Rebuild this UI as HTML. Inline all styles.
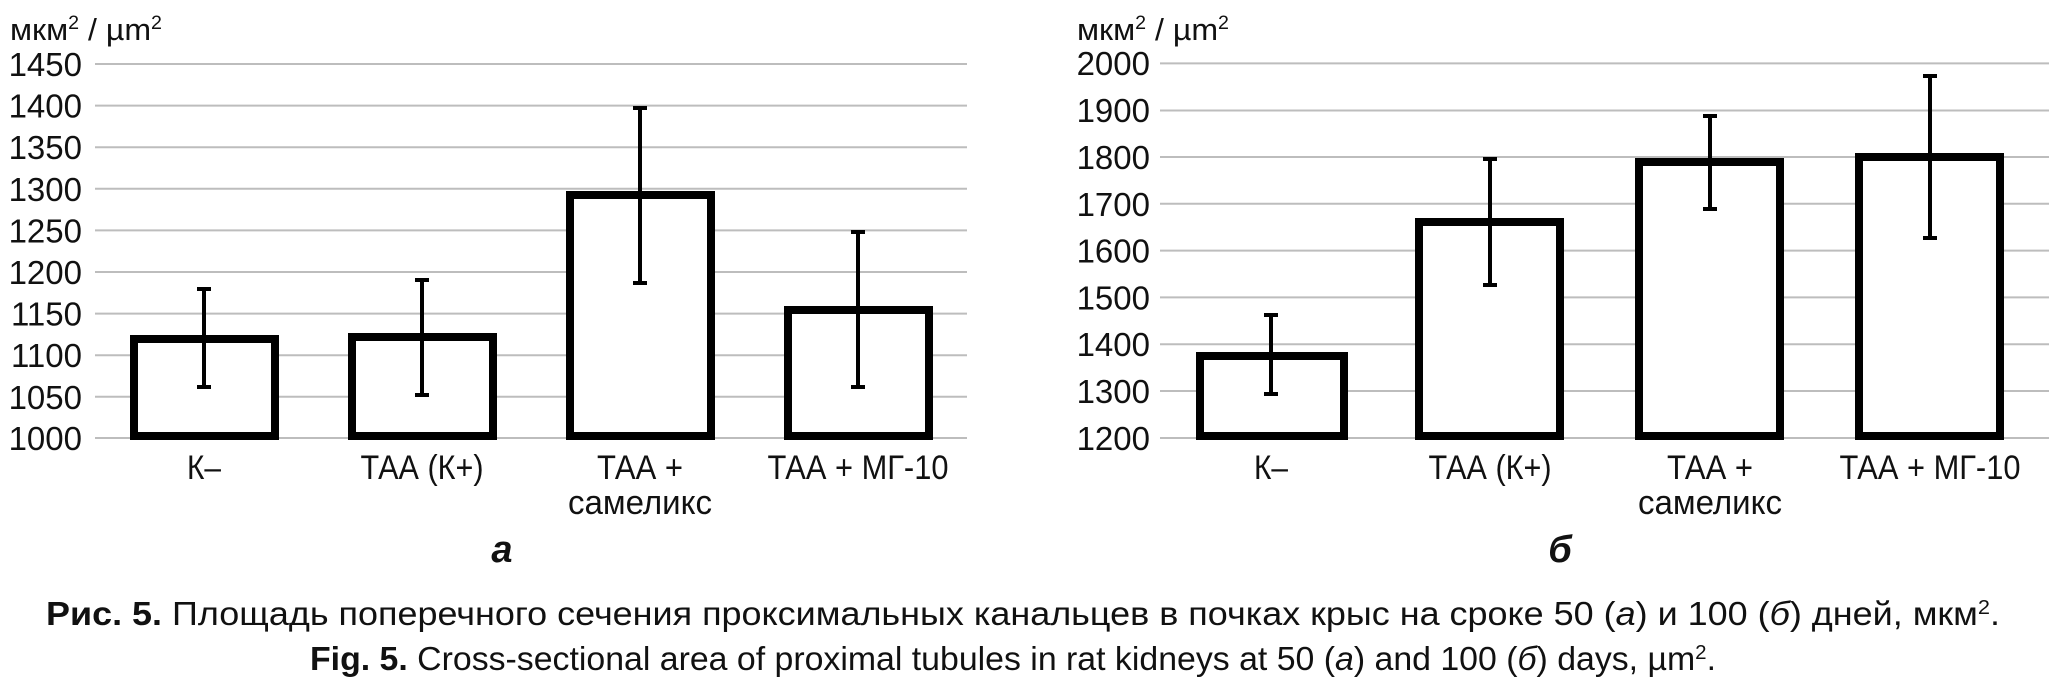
<!DOCTYPE html>
<html><head><meta charset="utf-8"><style>
html,body{margin:0;padding:0;background:#fff;}
svg{display:block;}
text{font-family:"Liberation Sans","DejaVu Sans",sans-serif;fill:#111;}
</style></head><body>
<svg width="2049" height="694" viewBox="0 0 2049 694" xmlns="http://www.w3.org/2000/svg">
<!-- LEFT CHART -->
<text x="10" y="40" font-size="31" textLength="152" lengthAdjust="spacingAndGlyphs">мкм<tspan font-size="19" dy="-11">2</tspan><tspan dy="11"> / µm</tspan><tspan font-size="19" dy="-11">2</tspan></text>
<g stroke="#bdbdbd" stroke-width="2">
<line x1="95" y1="64" x2="967" y2="64"/><line x1="95" y1="105.6" x2="967" y2="105.6"/>
<line x1="95" y1="147.2" x2="967" y2="147.2"/><line x1="95" y1="188.8" x2="967" y2="188.8"/>
<line x1="95" y1="230.4" x2="967" y2="230.4"/><line x1="95" y1="272" x2="967" y2="272"/>
<line x1="95" y1="313.6" x2="967" y2="313.6"/><line x1="95" y1="355.2" x2="967" y2="355.2"/>
<line x1="95" y1="396.8" x2="967" y2="396.8"/><line x1="95" y1="438" x2="967" y2="438"/>
</g>
<g font-size="33" text-anchor="end">
<text x="82" y="76">1450</text><text x="82" y="117.6">1400</text><text x="82" y="159.2">1350</text>
<text x="82" y="200.8">1300</text><text x="82" y="242.4">1250</text><text x="82" y="284">1200</text>
<text x="82" y="325.6">1150</text><text x="82" y="367.2">1100</text><text x="82" y="408.8">1050</text>
<text x="82" y="450">1000</text>
</g>
<g fill="#fff" stroke="#000" stroke-width="8">
<rect x="134" y="339" width="141" height="97"/>
<rect x="352" y="337" width="141" height="99"/>
<rect x="570" y="195" width="141" height="241"/>
<rect x="788" y="310" width="141" height="126"/>
</g>
<g stroke="#000" stroke-width="4">
<line x1="204" y1="289" x2="204" y2="387"/><line x1="197" y1="289" x2="211" y2="289"/><line x1="197" y1="387" x2="211" y2="387"/>
<line x1="422" y1="280" x2="422" y2="395"/><line x1="415" y1="280" x2="429" y2="280"/><line x1="415" y1="395" x2="429" y2="395"/>
<line x1="640" y1="108" x2="640" y2="283"/><line x1="633" y1="108" x2="647" y2="108"/><line x1="633" y1="283" x2="647" y2="283"/>
<line x1="858" y1="232" x2="858" y2="387"/><line x1="851" y1="232" x2="865" y2="232"/><line x1="851" y1="387" x2="865" y2="387"/>
</g>
<g font-size="34" text-anchor="middle">
<text x="204" y="479" textLength="34" lengthAdjust="spacingAndGlyphs">К–</text>
<text x="422" y="479" textLength="123" lengthAdjust="spacingAndGlyphs">ТАА (К+)</text>
<text x="640" y="479" textLength="86" lengthAdjust="spacingAndGlyphs">ТАА +</text>
<text x="640" y="514" textLength="144" lengthAdjust="spacingAndGlyphs">самеликс</text>
<text x="858" y="479" textLength="181" lengthAdjust="spacingAndGlyphs">ТАА + МГ-10</text>
</g>
<text x="502" y="562" font-size="38" font-weight="bold" font-style="italic" text-anchor="middle">а</text>

<!-- RIGHT CHART -->
<text x="1077" y="40" font-size="31" textLength="152" lengthAdjust="spacingAndGlyphs">мкм<tspan font-size="19" dy="-11">2</tspan><tspan dy="11"> / µm</tspan><tspan font-size="19" dy="-11">2</tspan></text>
<g stroke="#bdbdbd" stroke-width="2">
<line x1="1160" y1="63.4" x2="2049" y2="63.4"/><line x1="1160" y1="110.5" x2="2049" y2="110.5"/>
<line x1="1160" y1="157" x2="2049" y2="157"/><line x1="1160" y1="203.8" x2="2049" y2="203.8"/>
<line x1="1160" y1="250.6" x2="2049" y2="250.6"/><line x1="1160" y1="297.4" x2="2049" y2="297.4"/>
<line x1="1160" y1="344.2" x2="2049" y2="344.2"/><line x1="1160" y1="391" x2="2049" y2="391"/>
<line x1="1160" y1="438" x2="2049" y2="438"/>
</g>
<g font-size="33" text-anchor="end">
<text x="1150" y="75">2000</text><text x="1150" y="122">1900</text><text x="1150" y="169">1800</text>
<text x="1150" y="215.8">1700</text><text x="1150" y="262.6">1600</text><text x="1150" y="309.4">1500</text>
<text x="1150" y="356.2">1400</text><text x="1150" y="403">1300</text><text x="1150" y="450">1200</text>
</g>
<g fill="#fff" stroke="#000" stroke-width="8">
<rect x="1200" y="356" width="144" height="80"/>
<rect x="1419" y="222" width="141" height="214"/>
<rect x="1639" y="162" width="141" height="274"/>
<rect x="1859" y="157" width="141" height="279"/>
</g>
<g stroke="#000" stroke-width="4">
<line x1="1271" y1="315" x2="1271" y2="394"/><line x1="1264" y1="315" x2="1278" y2="315"/><line x1="1264" y1="394" x2="1278" y2="394"/>
<line x1="1490" y1="159" x2="1490" y2="285"/><line x1="1483" y1="159" x2="1497" y2="159"/><line x1="1483" y1="285" x2="1497" y2="285"/>
<line x1="1710" y1="116" x2="1710" y2="209"/><line x1="1703" y1="116" x2="1717" y2="116"/><line x1="1703" y1="209" x2="1717" y2="209"/>
<line x1="1930" y1="76" x2="1930" y2="238"/><line x1="1923" y1="76" x2="1937" y2="76"/><line x1="1923" y1="238" x2="1937" y2="238"/>
</g>
<g font-size="34" text-anchor="middle">
<text x="1271" y="479" textLength="34" lengthAdjust="spacingAndGlyphs">К–</text>
<text x="1490" y="479" textLength="123" lengthAdjust="spacingAndGlyphs">ТАА (К+)</text>
<text x="1710" y="479" textLength="86" lengthAdjust="spacingAndGlyphs">ТАА +</text>
<text x="1710" y="514" textLength="144" lengthAdjust="spacingAndGlyphs">самеликс</text>
<text x="1930" y="479" textLength="181" lengthAdjust="spacingAndGlyphs">ТАА + МГ-10</text>
</g>
<text x="1560" y="562" font-size="38" font-weight="bold" font-style="italic" text-anchor="middle">б</text>

<!-- CAPTIONS -->
<text x="46" y="625" font-size="33" textLength="1954" lengthAdjust="spacingAndGlyphs"><tspan font-weight="bold">Рис. 5.</tspan> Площадь поперечного сечения проксимальных канальцев в почках крыс на сроке 50 (<tspan font-style="italic">а</tspan>) и 100 (<tspan font-style="italic">б</tspan>) дней, мкм<tspan font-size="20" dy="-11">2</tspan><tspan dy="11">.</tspan></text>
<text x="310" y="670" font-size="33" textLength="1406" lengthAdjust="spacingAndGlyphs"><tspan font-weight="bold">Fig. 5.</tspan> Cross-sectional area of proximal tubules in rat kidneys at 50 (<tspan font-style="italic">a</tspan>) and 100 (<tspan font-style="italic">б</tspan>) days, µm<tspan font-size="20" dy="-11">2</tspan><tspan dy="11">.</tspan></text>
</svg>
</body></html>
